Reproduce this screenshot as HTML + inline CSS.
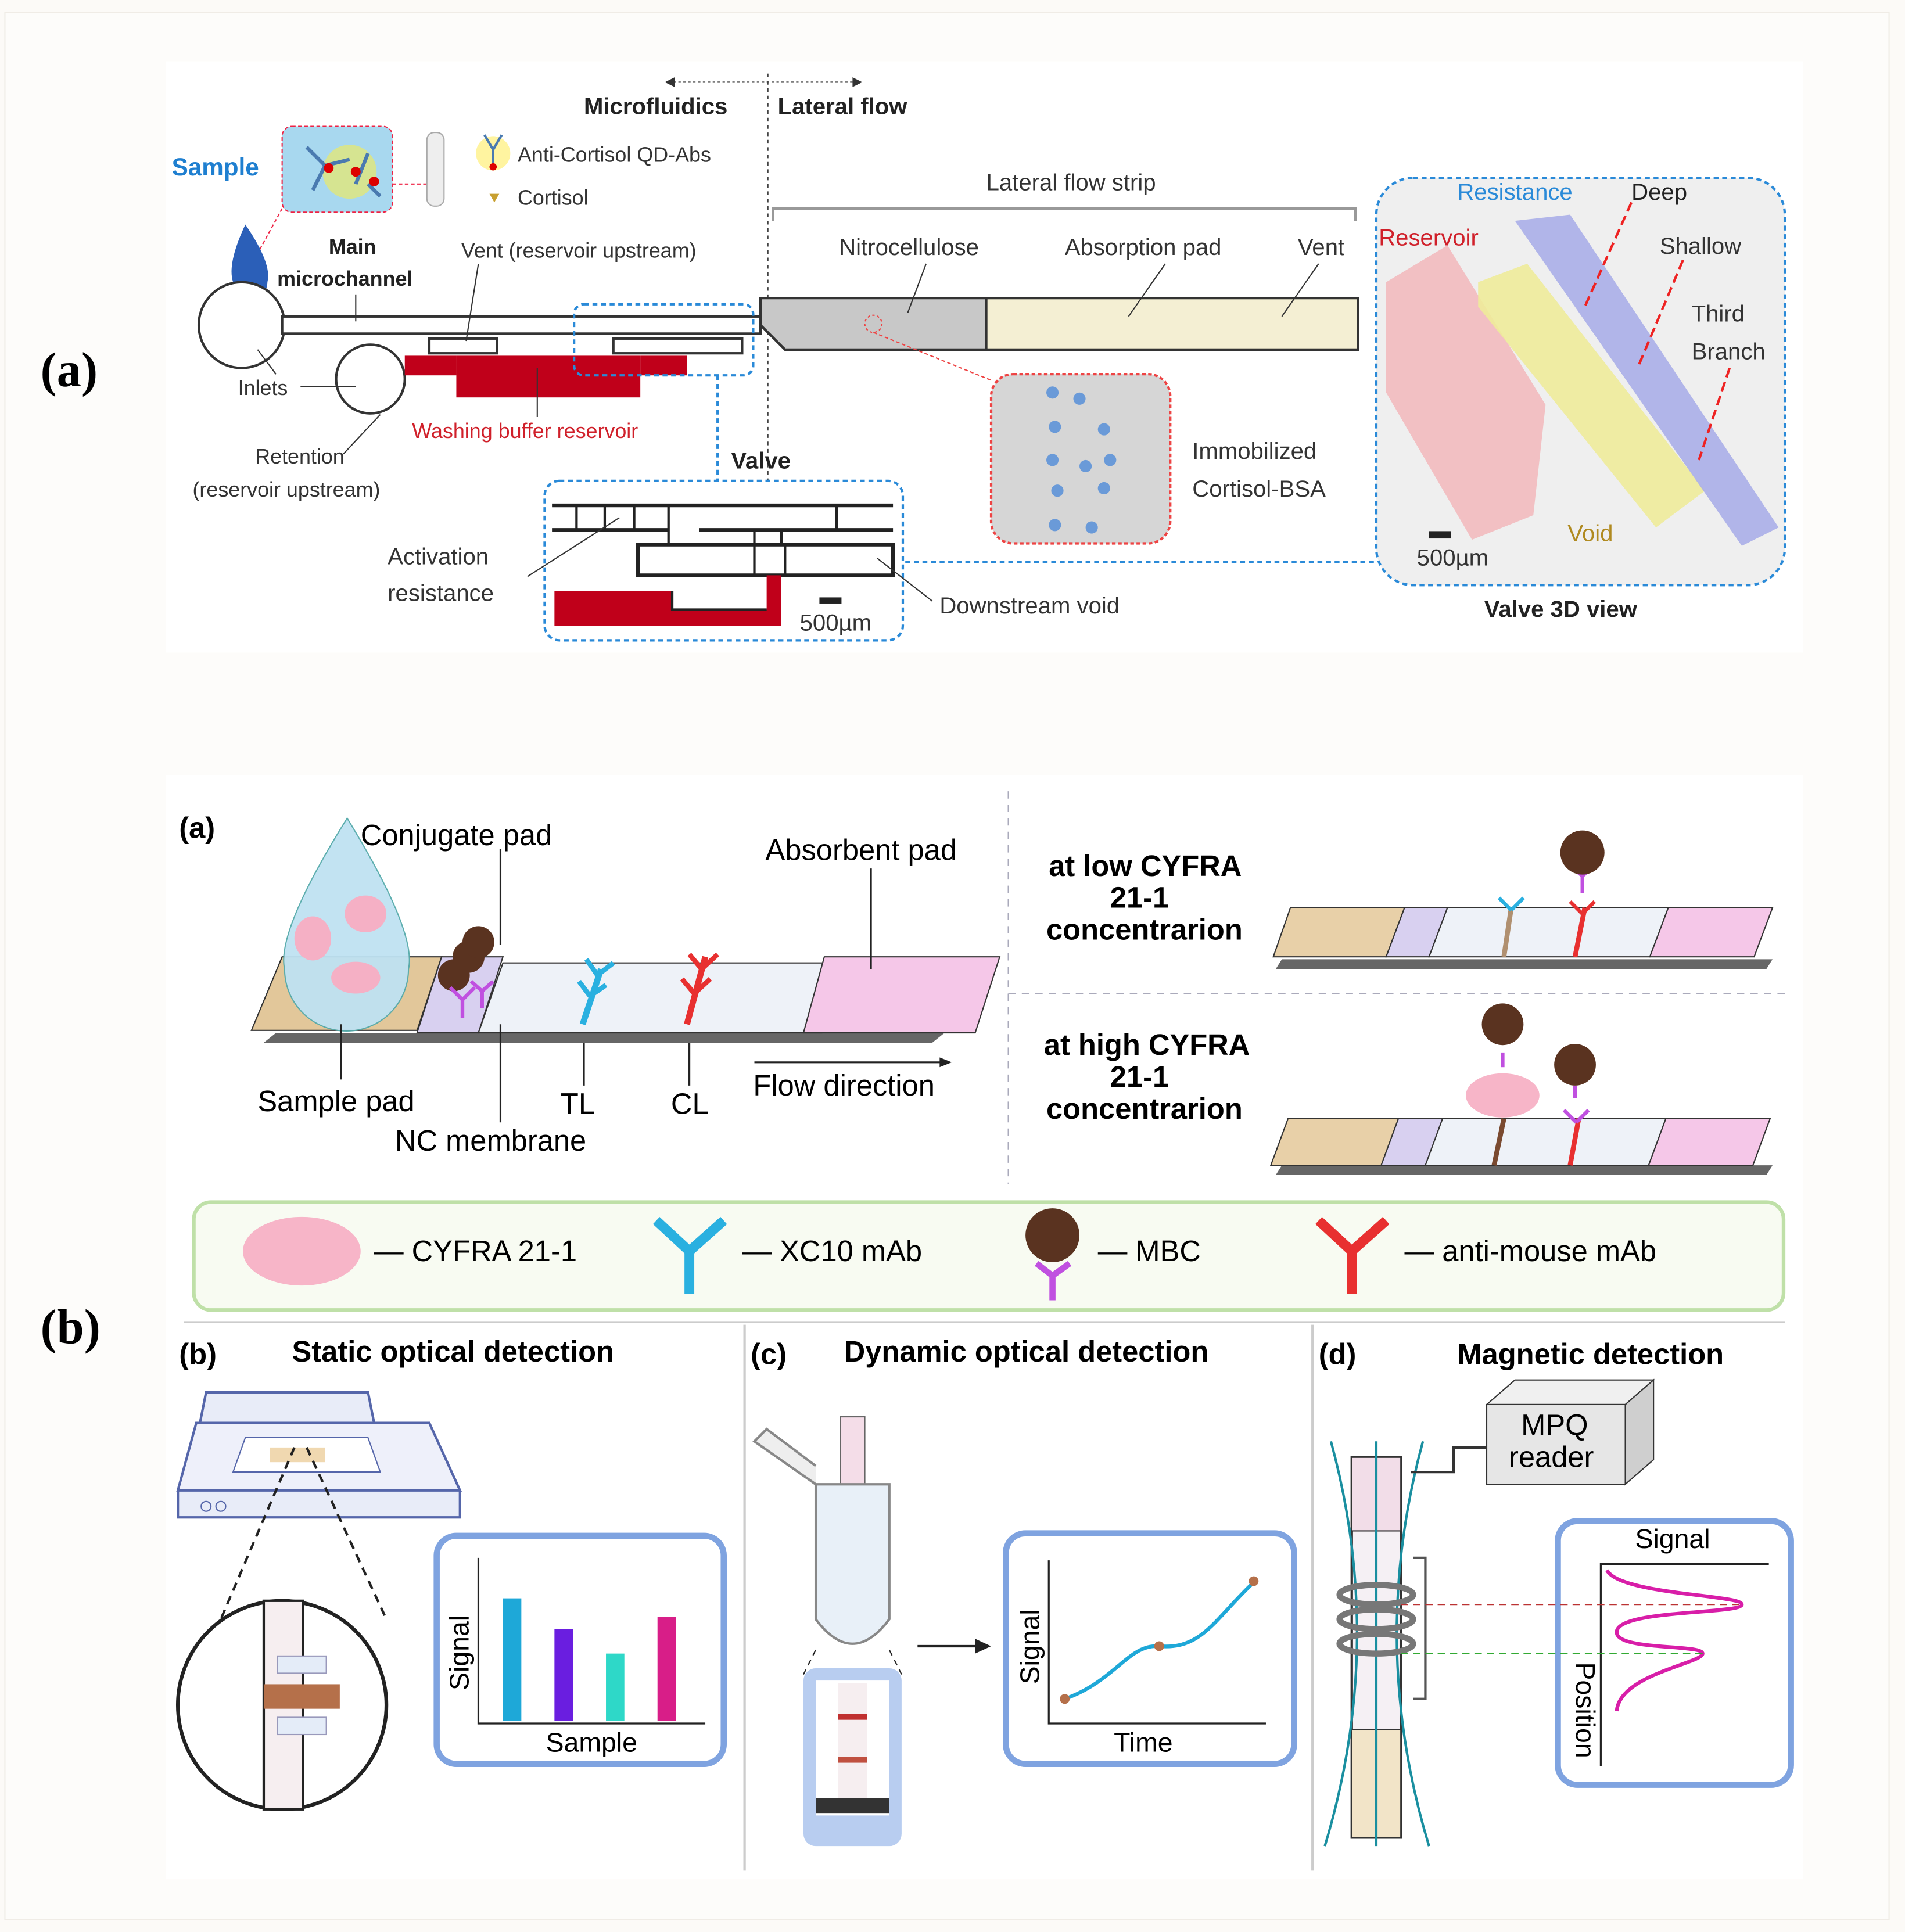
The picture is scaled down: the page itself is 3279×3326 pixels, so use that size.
<!DOCTYPE html>
<html><head><meta charset="utf-8"><style>
html,body{margin:0;padding:0;background:#fcfaf7;}
svg{display:block;}
text{font-family:"Liberation Sans",sans-serif;}
</style></head><body>
<svg width="3279" height="3326" viewBox="0 0 1553 1575" preserveAspectRatio="none" xmlns="http://www.w3.org/2000/svg">
<rect x="0" y="0" width="1553" height="1575" fill="#fcfaf7"/>
<rect x="4" y="10" width="1536" height="1555" fill="#fdfcfa" stroke="#f0ece6"/>
<rect x="135" y="50" width="1335" height="482" fill="#ffffff"/>
<text x="33" y="315" style="font-family:'Liberation Serif',serif" font-weight="bold" font-size="40">(a)</text>
<text x="33" y="1095" style="font-family:'Liberation Serif',serif" font-weight="bold" font-size="40">(b)</text>
<line x1="545" y1="67" x2="700" y2="67" stroke="#333" stroke-dasharray="2,2"/>
<polygon points="542,67 550,63 550,71" fill="#333"/><polygon points="703,67 695,63 695,71" fill="#333"/>
<line x1="626" y1="60" x2="626" y2="400" stroke="#444" stroke-dasharray="3,3"/>
<text x="476" y="93" font-size="19" font-weight="bold" fill="#222">Microfluidics</text>
<text x="634" y="93" font-size="19" font-weight="bold" fill="#222">Lateral flow</text>
<text x="140" y="143" font-size="20" font-weight="bold" fill="#1f7fd0">Sample</text>
<rect x="230" y="103" width="90" height="70" rx="8" fill="#a8d8ef" stroke="#e24" stroke-dasharray="3,2"/>
<circle cx="285" cy="140" r="22" fill="#e9e96a" opacity="0.7"/>
<path d="M250 120 L265 135 L255 155 M265 135 L285 130 M290 150 L300 125 M300 150 L310 160" stroke="#4a7ab0" stroke-width="3" fill="none"/>
<circle cx="268" cy="137" r="4" fill="#d00"/><circle cx="290" cy="140" r="4" fill="#d00"/><circle cx="305" cy="148" r="4" fill="#d00"/>
<line x1="320" y1="150" x2="348" y2="150" stroke="#e24" stroke-dasharray="3,2"/>
<line x1="230" y1="170" x2="200" y2="225" stroke="#e24" stroke-dasharray="3,2"/>
<rect x="348" y="108" width="14" height="60" rx="6" fill="#eee" stroke="#aaa"/>
<circle cx="402" cy="125" r="14" fill="#fff4a0"/>
<path d="M402 135 V122 L395 110 M402 122 L409 110" stroke="#4a7ab0" stroke-width="2" fill="none"/><circle cx="402" cy="136" r="3" fill="#d00"/>
<polygon points="399,158 407,158 403,165" fill="#c8a030"/>
<text x="422" y="132" font-size="17" fill="#333">Anti-Cortisol QD-Abs</text>
<text x="422" y="167" font-size="17" fill="#333">Cortisol</text>
<text x="804" y="155" font-size="19" fill="#333">Lateral flow strip</text>
<path d="M630 180 V170 H1105 V180" fill="none" stroke="#999" stroke-width="2"/>
<text x="268" y="207" font-size="17" font-weight="bold" fill="#222">Main</text>
<text x="226" y="233" font-size="17" font-weight="bold" fill="#222">microchannel</text>
<text x="376" y="210" font-size="17" fill="#333">Vent (reservoir upstream)</text>
<text x="684" y="208" font-size="19" fill="#333">Nitrocellulose</text>
<text x="868" y="208" font-size="19" fill="#333">Absorption pad</text>
<text x="1058" y="208" font-size="19" fill="#333">Vent</text>
<path d="M200 183 Q185 215 190 230 A14 14 0 0 0 218 230 Q222 215 200 183Z" fill="#2b5fb8"/>
<circle cx="197" cy="265" r="35" fill="#fff" stroke="#333" stroke-width="2"/>
<circle cx="302" cy="309" r="28" fill="#fff" stroke="#333" stroke-width="2"/>
<rect x="230" y="258" width="390" height="14" fill="#fff" stroke="#333" stroke-width="2"/>
<rect x="330" y="290" width="42" height="16" fill="#c0001a"/>
<rect x="372" y="290" width="150" height="34" fill="#c0001a"/>
<rect x="522" y="290" width="38" height="16" fill="#c0001a"/>
<rect x="350" y="276" width="55" height="12" fill="#fff" stroke="#333" stroke-width="2"/>
<rect x="500" y="276" width="105" height="12" fill="#fff" stroke="#333" stroke-width="2"/>
<rect x="468" y="248" width="146" height="58" rx="8" fill="none" stroke="#2a8ad8" stroke-width="2" stroke-dasharray="4,3"/>
<line x1="290" y1="240" x2="290" y2="262" stroke="#333"/>
<line x1="390" y1="215" x2="380" y2="278" stroke="#333"/>
<line x1="438" y1="300" x2="438" y2="340" stroke="#333"/>
<line x1="245" y1="315" x2="290" y2="315" stroke="#333"/>
<line x1="210" y1="285" x2="225" y2="305" stroke="#333"/>
<line x1="310" y1="338" x2="280" y2="370" stroke="#333"/>
<path d="M620 243 L640 243 L1107 243 V285 H640 L620 265Z" fill="#c8c8c8" stroke="#333" stroke-width="2"/>
<rect x="804" y="243" width="303" height="42" fill="#f4efd3" stroke="#333" stroke-width="2"/>
<line x1="755" y1="215" x2="740" y2="255" stroke="#333"/>
<line x1="950" y1="215" x2="920" y2="258" stroke="#333"/>
<line x1="1075" y1="215" x2="1045" y2="258" stroke="#333"/>
<circle cx="712" cy="264" r="7" fill="none" stroke="#e44" stroke-dasharray="2,2"/>
<line x1="712" y1="271" x2="808" y2="310" stroke="#e44" stroke-dasharray="3,2"/>
<text x="194" y="322" font-size="17" fill="#333">Inlets</text>
<text x="336" y="357" font-size="17" fill="#d0202a">Washing buffer reservoir</text>
<text x="208" y="378" font-size="17" fill="#333">Retention</text>
<text x="157" y="405" font-size="17" fill="#333">(reservoir upstream)</text>
<text x="596" y="382" font-size="19" font-weight="bold" fill="#222">Valve</text>
<path d="M585 306 V392" stroke="#2a8ad8" stroke-width="2" stroke-dasharray="4,3"/>
<rect x="808" y="305" width="146" height="138" rx="18" fill="#d6d6d6" stroke="#e44" stroke-dasharray="3,2" stroke-width="2"/>
<g fill="#6a9ad8"><circle cx="858" cy="320" r="5"/><circle cx="880" cy="325" r="5"/><circle cx="860" cy="348" r="5"/><circle cx="900" cy="350" r="5"/><circle cx="858" cy="375" r="5"/><circle cx="885" cy="380" r="5"/><circle cx="905" cy="375" r="5"/><circle cx="862" cy="400" r="5"/><circle cx="900" cy="398" r="5"/><circle cx="860" cy="428" r="5"/><circle cx="890" cy="430" r="5"/></g>
<text x="972" y="374" font-size="19" fill="#333">Immobilized</text>
<text x="972" y="405" font-size="19" fill="#333">Cortisol-BSA</text>
<rect x="444" y="392" width="292" height="130" rx="12" fill="#fff" stroke="#2a8ad8" stroke-width="2" stroke-dasharray="4,3"/>
<line x1="450" y1="412" x2="728" y2="412" stroke="#222" stroke-width="3"/>
<line x1="450" y1="432" x2="545" y2="432" stroke="#222" stroke-width="3"/>
<line x1="570" y1="432" x2="728" y2="432" stroke="#222" stroke-width="3"/>
<g stroke="#222" stroke-width="2"><line x1="470" y1="412" x2="470" y2="432"/><line x1="493" y1="412" x2="493" y2="432"/><line x1="517" y1="412" x2="517" y2="432"/><line x1="545" y1="412" x2="545" y2="444"/><line x1="682" y1="412" x2="682" y2="432"/><line x1="615" y1="432" x2="615" y2="444"/><line x1="637" y1="432" x2="637" y2="444"/><line x1="615" y1="444" x2="615" y2="469"/><line x1="640" y1="444" x2="640" y2="469"/></g>
<rect x="520" y="444" width="208" height="25" fill="none" stroke="#222" stroke-width="3"/>
<path d="M452 482 H548 V497 H625 V469 H637 V510 H452Z" fill="#c0001a"/>
<path d="M548 482 V497 H625" stroke="#222" stroke-width="2" fill="none"/>
<rect x="668" y="487" width="18" height="5" fill="#222"/>
<line x1="430" y1="470" x2="505" y2="422" stroke="#333"/>
<line x1="760" y1="490" x2="715" y2="455" stroke="#333"/>
<text x="316" y="460" font-size="19" fill="#333">Activation</text>
<text x="316" y="490" font-size="19" fill="#333">resistance</text>
<text x="652" y="514" font-size="19" fill="#333">500µm</text>
<text x="766" y="500" font-size="19" fill="#333">Downstream void</text>
<line x1="738" y1="458" x2="1122" y2="458" stroke="#2a8ad8" stroke-width="2" stroke-dasharray="4,3"/>
<rect x="1122" y="145" width="333" height="332" rx="30" fill="#efefef" stroke="#2a8ad8" stroke-width="2" stroke-dasharray="4,3"/>
<path d="M1130 230 L1180 200 L1260 330 L1250 420 L1200 440 L1130 320Z" fill="#f2b4b8" opacity="0.8"/>
<path d="M1205 230 L1245 215 L1390 400 L1350 430 L1205 250Z" fill="#eeeb9a" opacity="0.9"/>
<path d="M1235 180 L1280 175 L1450 430 L1420 445Z" fill="#aaaee8" opacity="0.9"/>
<g stroke="#e22" stroke-width="2" stroke-dasharray="8,4"><line x1="1330" y1="165" x2="1292" y2="250"/><line x1="1372" y1="212" x2="1335" y2="300"/><line x1="1410" y1="300" x2="1385" y2="375"/></g>
<rect x="1165" y="433" width="18" height="6" fill="#222"/>
<text x="1188" y="163" font-size="19" fill="#2a8ad8">Resistance</text>
<text x="1330" y="163" font-size="19" fill="#222">Deep</text>
<text x="1124" y="200" font-size="19" fill="#d0202a">Reservoir</text>
<text x="1353" y="207" font-size="19" fill="#333">Shallow</text>
<text x="1379" y="262" font-size="19" fill="#333">Third</text>
<text x="1379" y="293" font-size="19" fill="#333">Branch</text>
<text x="1278" y="441" font-size="19" fill="#b08a20">Void</text>
<text x="1155" y="461" font-size="19" fill="#333">500µm</text>
<text x="1210" y="503" font-size="19" font-weight="bold" fill="#222">Valve 3D view</text>
<!-- bottom panel -->
<rect x="135" y="632" width="1335" height="900" fill="#fff"/>
<text x="146" y="683" font-size="24" font-weight="bold">(a)</text>
<line x1="822" y1="645" x2="822" y2="965" stroke="#aab" stroke-dasharray="6,5"/>
<line x1="822" y1="810" x2="1455" y2="810" stroke="#aab" stroke-dasharray="6,5"/>
<polygon points="215,850 760,850 770,842 225,842" fill="#666"/>
<polygon points="230,780 360,780 340,840 205,840" fill="#e2c79a" stroke="#333"/>
<polygon points="360,780 410,780 390,842 340,842" fill="#d8d0f0" stroke="#333"/>
<polygon points="410,785 690,785 670,842 390,842" fill="#eef2f8" stroke="#333"/>
<polygon points="672,780 815,780 795,842 655,842" fill="#f5c7e8" stroke="#333"/>
<path d="M283 667 Q225 760 232 790 A50 50 0 0 0 333 790 Q340 760 283 667Z" fill="#bfe2f2" stroke="#5aa" opacity="0.95"/>
<g fill="#f5b0c5"><ellipse cx="255" cy="765" rx="15" ry="18"/><ellipse cx="298" cy="745" rx="17" ry="15"/><ellipse cx="290" cy="797" rx="20" ry="13"/></g>
<circle cx="370" cy="795" r="13" fill="#5a3320"/><circle cx="382" cy="780" r="13" fill="#5a3320"/><circle cx="390" cy="768" r="13" fill="#5a3320"/>
<path d="M377 830 V815 L367 805 M377 815 L387 805 M393 822 V808 L384 800 M393 808 L402 800" stroke="#c050e0" stroke-width="3" fill="none"/>
<path d="M490 790 L475 835" stroke="#2ab0e0" stroke-width="5"/>
<path d="M487 795 L478 782 M487 795 L500 785 M481 812 L472 800 M481 812 L494 803" stroke="#2ab0e0" stroke-width="4" fill="none"/>
<path d="M575 780 L560 835" stroke="#e83030" stroke-width="5"/>
<path d="M572 790 L562 778 M572 790 L585 778 M566 810 L556 798 M566 810 L579 798" stroke="#e83030" stroke-width="4" fill="none"/>
<text x="294" y="689" font-size="24">Conjugate pad</text>
<text x="624" y="701" font-size="24">Absorbent pad</text>
<line x1="408" y1="692" x2="408" y2="770" stroke="#222" stroke-width="1.5"/>
<line x1="710" y1="708" x2="710" y2="790" stroke="#222" stroke-width="1.5"/>
<line x1="278" y1="835" x2="278" y2="880" stroke="#222" stroke-width="1.5"/>
<line x1="408" y1="835" x2="408" y2="915" stroke="#222" stroke-width="1.5"/>
<line x1="476" y1="850" x2="476" y2="885" stroke="#222" stroke-width="1.5"/>
<line x1="562" y1="850" x2="562" y2="885" stroke="#222" stroke-width="1.5"/>
<text x="210" y="906" font-size="24">Sample pad</text>
<text x="322" y="938" font-size="24">NC membrane</text>
<text x="457" y="908" font-size="24">TL</text>
<text x="547" y="908" font-size="24">CL</text>
<text x="614" y="893" font-size="24">Flow direction</text>
<line x1="615" y1="866" x2="772" y2="866" stroke="#222" stroke-width="1.5"/>
<polygon points="776,866 766,862 766,870" fill="#222"/>
<text x="855" y="714" font-size="24" font-weight="bold">at low CYFRA</text>
<text x="905" y="740" font-size="24" font-weight="bold">21-1</text>
<text x="853" y="766" font-size="24" font-weight="bold">concentrarion</text>
<text x="851" y="860" font-size="24" font-weight="bold">at high CYFRA</text>
<text x="905" y="886" font-size="24" font-weight="bold">21-1</text>
<text x="853" y="912" font-size="24" font-weight="bold">concentrarion</text>
<g>
<polygon points="1040,790 1440,790 1445,782 1045,782" fill="#666"/>
<polygon points="1052,740 1145,740 1130,780 1038,780" fill="#e8d0a8" stroke="#333"/>
<polygon points="1145,740 1180,740 1165,780 1130,780" fill="#d8d0f0" stroke="#333"/>
<polygon points="1180,740 1360,740 1345,780 1165,780" fill="#eef2f8" stroke="#333"/>
<polygon points="1360,740 1445,740 1430,780 1345,780" fill="#f5c7e8" stroke="#333"/>
<path d="M1232 740 L1226 780" stroke="#b09070" stroke-width="4"/>
<path d="M1232 742 L1222 732 M1232 742 L1242 732" stroke="#2ab0e0" stroke-width="3" fill="none"/>
<path d="M1292 740 L1284 780" stroke="#e83030" stroke-width="4"/>
<path d="M1290 745 L1280 735 M1290 745 L1300 735" stroke="#e83030" stroke-width="3" fill="none"/>
<path d="M1290 728 V714 L1280 706 M1290 714 L1300 706" stroke="#c050e0" stroke-width="3" fill="none"/>
<circle cx="1290" cy="695" r="18" fill="#5a3320"/>
</g>
<g>
<polygon points="1040,958 1440,958 1445,950 1045,950" fill="#666"/>
<polygon points="1050,912 1140,912 1126,950 1036,950" fill="#e8d0a8" stroke="#333"/>
<polygon points="1140,912 1176,912 1162,950 1126,950" fill="#d8d0f0" stroke="#333"/>
<polygon points="1176,912 1358,912 1344,950 1162,950" fill="#eef2f8" stroke="#333"/>
<polygon points="1358,912 1443,912 1429,950 1344,950" fill="#f5c7e8" stroke="#333"/>
<path d="M1226 912 L1218 950" stroke="#7a4a30" stroke-width="4"/>
<path d="M1287 912 L1280 950" stroke="#e83030" stroke-width="4"/>
<path d="M1285 915 L1275 905 M1285 915 L1295 905" stroke="#c050e0" stroke-width="3" fill="none"/>
<path d="M1284 895 V885" stroke="#c050e0" stroke-width="3"/>
<ellipse cx="1225" cy="893" rx="30" ry="18" fill="#f7b5c8"/>
<path d="M1225 870 V858" stroke="#c050e0" stroke-width="3"/>
<circle cx="1225" cy="835" r="17" fill="#5a3320"/><circle cx="1284" cy="868" r="17" fill="#5a3320"/>
</g>
<rect x="158" y="980" width="1296" height="88" rx="14" fill="#f8fbf2" stroke="#bfe0a8" stroke-width="3"/>
<ellipse cx="246" cy="1020" rx="48" ry="28" fill="#f7b5c8"/>
<text x="305" y="1028" font-size="24">— CYFRA 21-1</text>
<path d="M562 1055 V1020 L535 995 M562 1020 L590 995" stroke="#2ab0e0" stroke-width="8" fill="none"/>
<text x="605" y="1028" font-size="24">— XC10 mAb</text>
<circle cx="858" cy="1007" r="22" fill="#5a3320"/>
<path d="M858 1060 V1040 L845 1030 M858 1040 L872 1030" stroke="#c050e0" stroke-width="5" fill="none"/>
<text x="895" y="1028" font-size="24">— MBC</text>
<path d="M1102 1055 V1020 L1075 995 M1102 1020 L1130 995" stroke="#e83030" stroke-width="8" fill="none"/>
<text x="1145" y="1028" font-size="24">— anti-mouse mAb</text>
<line x1="150" y1="1078" x2="1455" y2="1078" stroke="#ccc"/>
<line x1="607" y1="1080" x2="607" y2="1525" stroke="#ccc" stroke-width="2"/>
<line x1="1070" y1="1080" x2="1070" y2="1525" stroke="#ccc" stroke-width="2"/>
<text x="146" y="1112" font-size="24" font-weight="bold">(b)</text>
<text x="238" y="1110" font-size="24" font-weight="bold">Static optical detection</text>
<text x="612" y="1112" font-size="24" font-weight="bold">(c)</text>
<text x="688" y="1110" font-size="24" font-weight="bold">Dynamic optical detection</text>
<text x="1075" y="1112" font-size="24" font-weight="bold">(d)</text>
<text x="1188" y="1112" font-size="24" font-weight="bold">Magnetic detection</text>
<polygon points="168,1135 300,1135 305,1160 163,1160" fill="#e8ecf8" stroke="#5566aa" stroke-width="2"/>
<polygon points="160,1160 350,1160 375,1215 145,1215" fill="#eef0fa" stroke="#5566aa" stroke-width="2"/>
<polygon points="200,1172 300,1172 310,1200 190,1200" fill="#fff" stroke="#5566aa"/>
<rect x="220" y="1180" width="45" height="12" fill="#f0d8b0"/>
<rect x="145" y="1215" width="230" height="22" fill="#e8ecf8" stroke="#5566aa" stroke-width="2"/>
<circle cx="168" cy="1228" r="4" fill="none" stroke="#5566aa"/><circle cx="180" cy="1228" r="4" fill="none" stroke="#5566aa"/>
<circle cx="230" cy="1390" r="85" fill="#fff" stroke="#222" stroke-width="3"/>
<rect x="215" y="1305" width="32" height="170" fill="#f6eef0" stroke="#222" stroke-width="2"/>
<rect x="215" y="1373" width="62" height="20" fill="#b5704a"/>
<rect x="226" y="1350" width="40" height="14" fill="#e4ecf8" stroke="#99b"/>
<rect x="226" y="1400" width="40" height="14" fill="#e4ecf8" stroke="#99b"/>
<line x1="240" y1="1180" x2="180" y2="1320" stroke="#222" stroke-dasharray="7,5" stroke-width="2"/>
<line x1="250" y1="1180" x2="315" y2="1320" stroke="#222" stroke-dasharray="7,5" stroke-width="2"/>
<rect x="356" y="1252" width="234" height="186" rx="16" fill="#fff" stroke="#7fa3e0" stroke-width="5"/>
<path d="M390 1270 V1405 H575" stroke="#222" stroke-width="1.5" fill="none"/>
<rect x="410" y="1303" width="15" height="100" fill="#1ea8d8"/>
<rect x="452" y="1328" width="15" height="75" fill="#6a1ee0"/>
<rect x="494" y="1348" width="15" height="55" fill="#2ed8c8"/>
<rect x="536" y="1318" width="15" height="85" fill="#d81e88"/>
<text x="382" y="1378" font-size="22" transform="rotate(-90 382 1378)">Signal</text>
<text x="445" y="1428" font-size="22">Sample</text>
<path d="M665 1210 L615 1175 L625 1165 L665 1195" fill="#eee" stroke="#888" stroke-width="2"/>
<rect x="685" y="1155" width="20" height="55" fill="#f4dde8" stroke="#666"/>
<path d="M665 1210 H725 V1320 Q695 1360 665 1320Z" fill="#e8f0f8" stroke="#888" stroke-width="2"/>
<line x1="665" y1="1345" x2="655" y2="1365" stroke="#222" stroke-dasharray="5,4"/><line x1="725" y1="1345" x2="735" y2="1365" stroke="#222" stroke-dasharray="5,4"/>
<rect x="655" y="1360" width="80" height="145" rx="10" fill="#b8cdf0"/>
<rect x="665" y="1370" width="60" height="110" fill="#fff"/>
<rect x="683" y="1372" width="24" height="96" fill="#f6eef0"/>
<rect x="683" y="1397" width="24" height="5" fill="#c03030"/>
<rect x="683" y="1432" width="24" height="5" fill="#c05040"/>
<rect x="665" y="1466" width="60" height="12" fill="#333"/>
<path d="M748 1342 H800" stroke="#222" stroke-width="2"/>
<polygon points="808,1342 795,1336 795,1348" fill="#222"/>
<rect x="820" y="1250" width="235" height="188" rx="16" fill="#fff" stroke="#7fa3e0" stroke-width="5"/>
<path d="M855 1272 V1405 H1032" stroke="#222" stroke-width="1.5" fill="none"/>
<path d="M868 1385 C910 1370 920 1340 945 1342 C980 1345 990 1320 1022 1290" stroke="#1ea8d8" stroke-width="3" fill="none"/>
<circle cx="868" cy="1385" r="4" fill="#b5704a"/><circle cx="945" cy="1342" r="4" fill="#b5704a"/><circle cx="1022" cy="1289" r="4" fill="#b5704a"/>
<text x="847" y="1373" font-size="22" transform="rotate(-90 847 1373)">Signal</text>
<text x="908" y="1428" font-size="22">Time</text>
<rect x="1102" y="1188" width="40" height="310" fill="#f5f0f4" stroke="#333" stroke-width="2"/>
<rect x="1102" y="1188" width="40" height="60" fill="#f2dde8" stroke="#333"/>
<rect x="1102" y="1410" width="40" height="88" fill="#f2e4c8" stroke="#333"/>
<path d="M1085 1175 Q1130 1340 1080 1505 M1160 1175 Q1115 1340 1165 1505 M1122 1175 V1505" stroke="#1a8fa0" stroke-width="2" fill="none"/>
<ellipse cx="1122" cy="1300" rx="30" ry="8" fill="none" stroke="#777" stroke-width="5"/>
<ellipse cx="1122" cy="1320" rx="30" ry="8" fill="none" stroke="#777" stroke-width="5"/>
<ellipse cx="1122" cy="1340" rx="30" ry="8" fill="none" stroke="#777" stroke-width="5"/>
<path d="M1152 1270 H1162 V1385 H1152" stroke="#555" stroke-width="2" fill="none"/>
<polygon points="1212,1145 1325,1145 1348,1125 1235,1125" fill="#f0f0f0" stroke="#333"/>
<rect x="1212" y="1145" width="113" height="65" fill="#e6e6e6" stroke="#333"/>
<polygon points="1325,1145 1348,1125 1348,1190 1325,1210" fill="#cfcfcf" stroke="#333"/>
<text x="1240" y="1170" font-size="24">MPQ</text>
<text x="1230" y="1196" font-size="24">reader</text>
<path d="M1212 1180 H1185 V1200 H1150" stroke="#333" fill="none" stroke-width="2"/>
<rect x="1270" y="1240" width="190" height="215" rx="16" fill="#fff" stroke="#7fa3e0" stroke-width="5"/>
<text x="1333" y="1262" font-size="22">Signal</text>
<path d="M1442 1275 H1305 V1440" stroke="#222" stroke-width="1.5" fill="none"/>
<path d="M1310 1280 C1320 1300 1420 1300 1420 1308 C1420 1316 1320 1312 1318 1330 C1316 1346 1388 1340 1388 1348 C1388 1356 1320 1365 1318 1395" stroke="#d81ea8" stroke-width="3" fill="none"/>
<line x1="1142" y1="1308" x2="1420" y2="1308" stroke="#b33" stroke-dasharray="6,4"/>
<line x1="1142" y1="1348" x2="1388" y2="1348" stroke="#3a3" stroke-dasharray="6,4"/>
<text x="1285" y="1355" font-size="22" transform="rotate(90 1285 1355)">Position</text>
</svg>
</body></html>
